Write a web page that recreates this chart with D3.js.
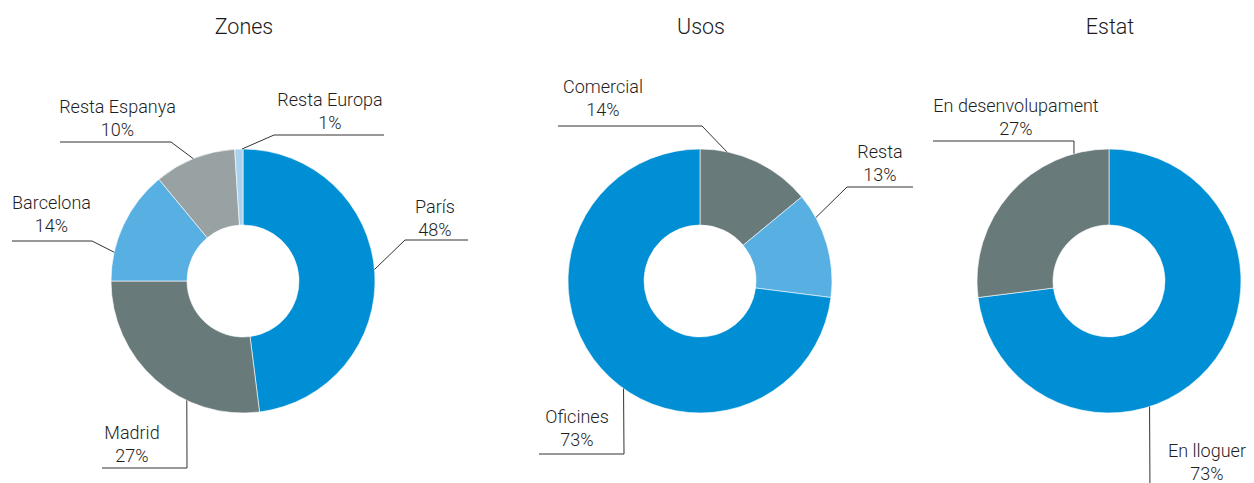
<!DOCTYPE html>
<html>
<head>
<meta charset="utf-8">
<script src="https://cdn.jsdelivr.net/npm/d3@7"></script>
<style>
  html, body { margin: 0; padding: 0; background: #fff; }
  svg { display: block; }
  text { font-family: Roboto, "Liberation Sans", sans-serif; font-weight: 300; fill: #1e1e1e; }
</style>
</head>
<body>
<svg id="chart" width="1254" height="483"></svg>
<script>
// Portfolio breakdown: three donuts (zones, uses, status)
const chartTitles = ["Zones", "Usos", "Estat"];

const zonesCategories = ["París", "Madrid", "Barcelona", "Resta Espanya", "Resta Europa"];
const zonesValues = [48, 27, 14, 10, 1];

const usosCategories = ["Comercial", "Resta", "Oficines"];
const usosValues = [14, 13, 73];

const estatCategories = ["En lloguer", "En desenvolupament"];
const estatValues = [73, 27];

// palette per category
const palette = {
  "París": "#008fd5",
  "Madrid": "#697a7a",
  "Barcelona": "#58b0e2",
  "Resta Espanya": "#98a2a2",
  "Resta Europa": "#a9d2ef",
  "Comercial": "#697a7a",
  "Resta": "#58b0e2",
  "Oficines": "#008fd5",
  "En lloguer": "#008fd5",
  "En desenvolupament": "#697a7a"
};

// layout: donut centres and callout geometry (offsets from each centre)
const outerR = 132, innerR = 56;
const donuts = [
  { title: chartTitles[0], cats: zonesCategories, vals: zonesValues, cx: 243, cy: 281,
    callouts: {
      "París":         { a: 85,    elbow: [162, -41],  endX: 225,  tx: 192,   ty: -68 },
      "Madrid":        { a: 205.2, elbow: [-56, 187],  endX: -141, tx: -111,  ty: 158 },
      "Barcelona":     { a: 282.6, elbow: [-151, -40], endX: -231, tx: -191.5, ty: -72 },
      "Resta Espanya": { a: 337.9, elbow: [-72, -139], endX: -183, tx: -125.5, ty: -168 },
      "Resta Europa":  { a: 359.6, elbow: [31, -146],  endX: 141,  tx: 87,    ty: -175 }
    } },
  { title: chartTitles[1], cats: usosCategories, vals: usosValues, cx: 700, cy: 281,
    callouts: {
      "Comercial": { a: 11.7,  elbow: [2, -155],  endX: -142, tx: -97, ty: -188 },
      "Resta":     { a: 61.3,  elbow: [147, -94], endX: 213,  tx: 180, ty: -123 },
      "Oficines":  { a: 215.4, elbow: [-76, 173], endX: -161, tx: -123, ty: 142 }
    } },
  { title: chartTitles[2], cats: estatCategories, vals: estatValues, cx: 1109, cy: 281,
    callouts: {
      "En lloguer":         { a: 162.1, elbow: [41, 215],   endX: null, tx: 98,  ty: 176 },
      "En desenvolupament": { a: 344.6, elbow: [-35, -140], endX: -176, tx: -93, ty: -169 }
    } }
];

const svg = d3.select("#chart");
const pie = d3.pie().sort(null).value(d => d.value);
const arc = d3.arc().innerRadius(innerR).outerRadius(outerR);
const rad = deg => deg * Math.PI / 180;

donuts.forEach(cfg => {
  const g = svg.append("g").attr("transform", `translate(${cfg.cx},${cfg.cy})`);
  const rows = cfg.cats.map((c, i) => ({ cat: c, value: cfg.vals[i] }));
  const arcs = pie(rows);

  // title
  svg.append("text")
    .attr("x", cfg.cx + 1)
    .attr("y", 34)
    .attr("text-anchor", "middle")
    .style("font-size", "21.5px")
    .style("fill", "#1a1a1a")
    .text(cfg.title);

  // ring segments
  g.selectAll("path.slice")
    .data(arcs)
    .join("path")
    .attr("class", "slice")
    .attr("d", arc)
    .attr("fill", d => palette[d.data.cat])
    .attr("stroke", "#fff")
    .attr("stroke-width", 0.6);

  // callouts
  arcs.forEach(d => {
    const c = cfg.callouts[d.data.cat];
    const ang = rad(c.a);
    const p0 = [outerR * Math.sin(ang), -outerR * Math.cos(ang)];
    const pts = [p0, c.elbow];
    if (c.endX !== null) pts.push([c.endX, c.elbow[1]]);
    g.append("path")
      .attr("d", d3.line()(pts))
      .attr("fill", "none")
      .attr("stroke", "#333")
      .attr("stroke-width", 1);

    const t = g.append("text")
      .attr("text-anchor", "middle")
      .style("font-size", "18px");
    t.append("tspan").attr("x", c.tx).attr("y", c.ty).text(d.data.cat);
    t.append("tspan").attr("x", c.tx).attr("y", c.ty + 22.5).text(d.data.value + "%");
  });
});
</script>
</body>
</html>
